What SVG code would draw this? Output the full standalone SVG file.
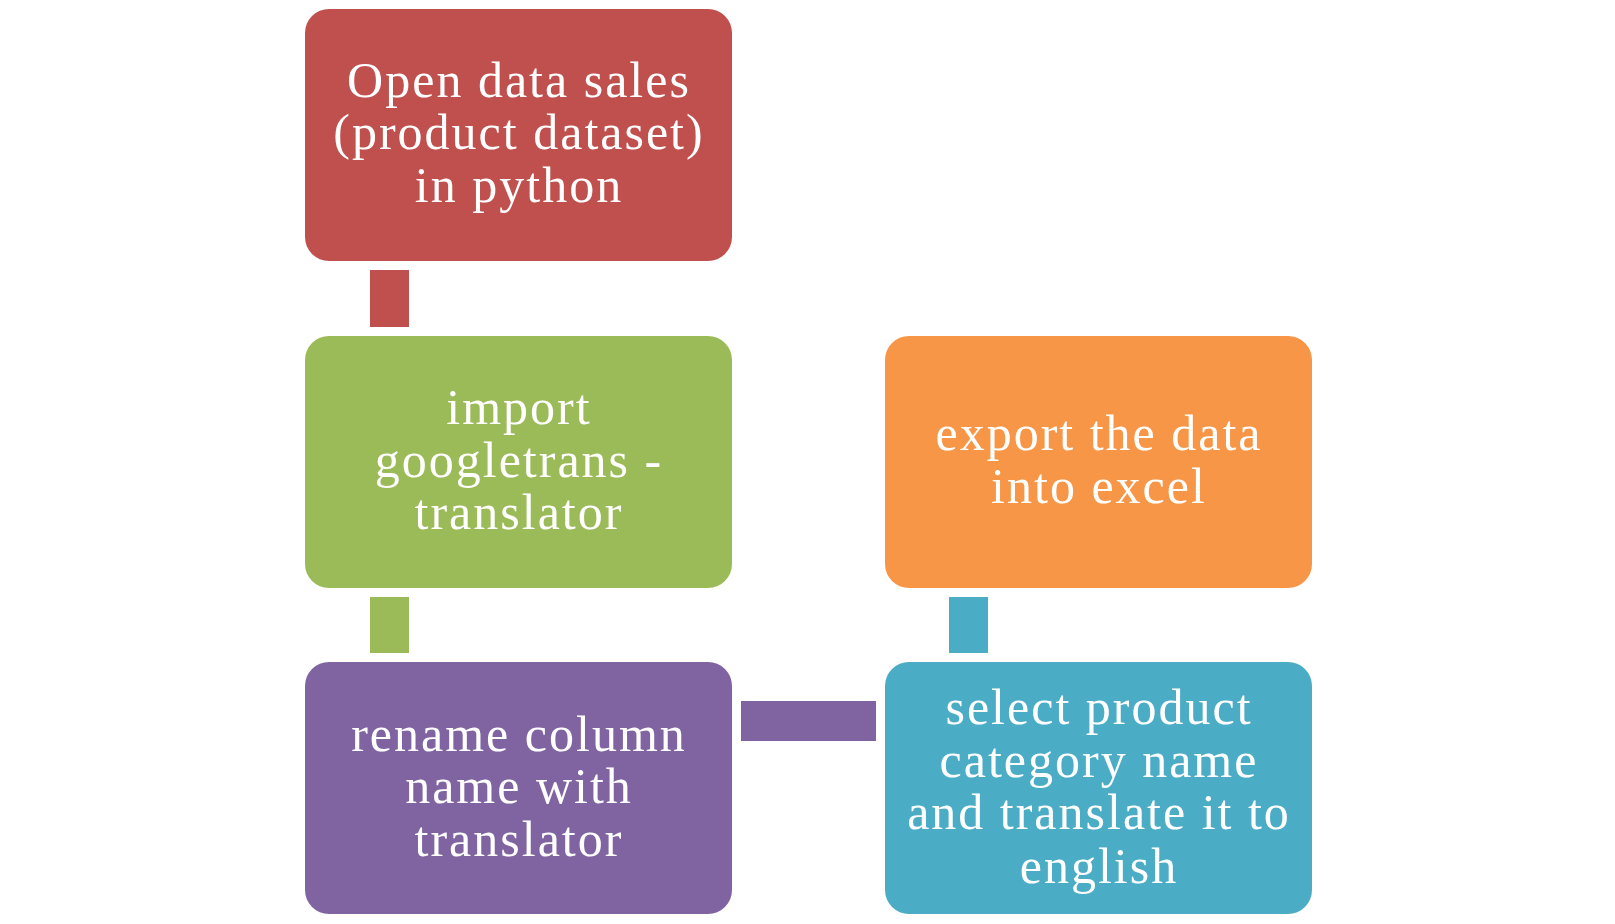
<svg xmlns="http://www.w3.org/2000/svg" width="1615" height="924" viewBox="0 0 1615 924">
<style>
.box{rx:24px;ry:24px}
.t{font-family:"Liberation Serif","DejaVu Serif",serif;font-size:50px;letter-spacing:2px;fill:#ffffff;text-anchor:middle}
</style>
<rect width="1615" height="924" fill="#ffffff"/>
<g id="connectors">
<rect x="370" y="270" width="39" height="57" fill="#C0504D"/>
<rect x="370" y="597" width="39" height="56" fill="#9BBB59"/>
<rect x="741" y="701" width="135" height="40" fill="#8064A2"/>
<rect x="949" y="597" width="39" height="56" fill="#4BACC6"/>
</g>
<g id="n1">
<rect class="box" x="305" y="9" width="427" height="252" fill="#C0504D"/>
<text class="t" x="519" y="97">Open data sales</text>
<text class="t" x="519" y="149">(product dataset)</text>
<text class="t" x="519" y="202">in python</text>
</g>
<g id="n2">
<rect class="box" x="305" y="336" width="427" height="252" fill="#9BBB59"/>
<text class="t" x="519" y="424">import</text>
<text class="t" x="519" y="477">googletrans -</text>
<text class="t" x="519" y="529">translator</text>
</g>
<g id="n3">
<rect class="box" x="305" y="662" width="427" height="252" fill="#8064A2"/>
<text class="t" x="519" y="751">rename column</text>
<text class="t" x="519" y="803">name with</text>
<text class="t" x="519" y="856">translator</text>
</g>
<g id="n4">
<rect class="box" x="885" y="662" width="427" height="252" fill="#4BACC6"/>
<text class="t" x="1099" y="724">select product</text>
<text class="t" x="1099" y="777">category name</text>
<text class="t" x="1099" y="829">and translate it to</text>
<text class="t" x="1099" y="883">english</text>
</g>
<g id="n5">
<rect class="box" x="885" y="336" width="427" height="252" fill="#F79646"/>
<text class="t" x="1099" y="450">export the data</text>
<text class="t" x="1099" y="503">into excel</text>
</g>
</svg>
